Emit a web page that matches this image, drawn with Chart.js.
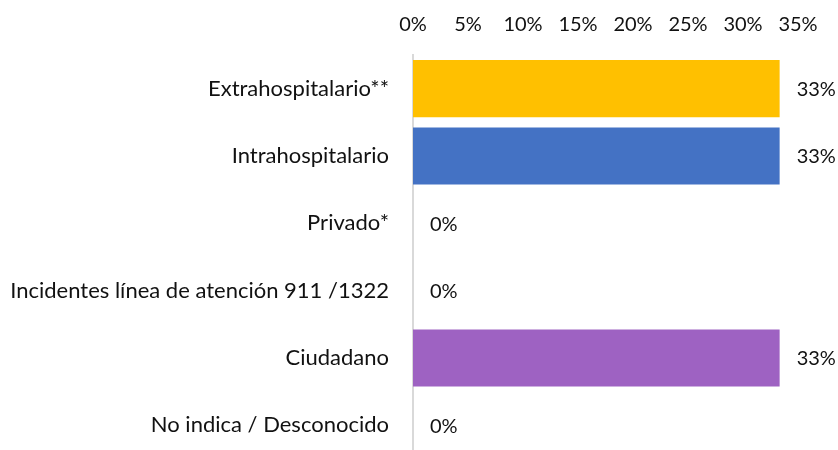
<!DOCTYPE html>
<html>
<head>
<meta charset="utf-8">
<script src="https://cdn.jsdelivr.net/npm/chart.js@4/dist/chart.umd.min.js"></script>
<style>
  html, body { margin: 0; padding: 0; background: #fff; overflow: hidden; }
  #wrap { position: relative; width: 838px; height: 460px; }
</style>
</head>
<body>
<div id="wrap"><canvas id="c"></canvas></div>
<script>
const categories = [
  "Extrahospitalario**",
  "Intrahospitalario",
  "Privado*",
  "Incidentes línea de atención 911 /1322",
  "Ciudadano",
  "No indica / Desconocido"
];
const values = [33.33, 33.33, 0, 0, 33.33, 0];
const valueLabels = ["33%", "33%", "0%", "0%", "33%", "0%"];
const barColors = ["#FFC000", "#4472C4", "#A5A5A5", "#5B9BD5", "#9E62C2", "#70AD47"];
const xTicks = [0, 5, 10, 15, 20, 25, 30, 35];

const FONT = "Lato, 'Open Sans', sans-serif";
const FS_LABEL = 22;
const FS_NUM = 20;

const valueLabelPlugin = {
  id: 'valueLabels',
  afterDatasetsDraw(chart) {
    const ctx = chart.ctx;
    const meta = chart.getDatasetMeta(0);
    ctx.save();
    ctx.font = FS_NUM + "px " + FONT;
    ctx.fillStyle = "#111";
    ctx.textAlign = "left";
    ctx.textBaseline = "middle";
    meta.data.forEach((bar, i) => {
      const p = bar.getProps(['x', 'y'], true);
      ctx.fillText(valueLabels[i], p.x + 17, p.y + 1);
    });
    ctx.restore();
  }
};

new Chart(document.getElementById('c'), {
  type: 'bar',
  data: {
    labels: categories,
    datasets: [{
      data: values,
      backgroundColor: barColors,
      borderWidth: 0,
      categoryPercentage: 1.0,
      barPercentage: 0.85
    }]
  },
  options: {
    indexAxis: 'y',
    responsive: true,
    maintainAspectRatio: false,
    animation: false,
    devicePixelRatio: 1,
    layout: { padding: { top: 0, right: 40, bottom: 1, left: 0 } },
    plugins: { legend: { display: false }, tooltip: { enabled: false } },
    scales: {
      x: {
        position: 'top',
        min: 0,
        max: 35,
        afterBuildTicks(scale) { scale.ticks = xTicks.map(v => ({ value: v })); },
        afterFit(scale) { scale.height = 55; },
        grid: { display: false, drawTicks: false },
        border: { display: false },
        ticks: {
          padding: 18,
          color: "#111",
          font: { family: FONT, size: FS_NUM },
          callback: (v) => v + "%"
        }
      },
      y: {
        afterFit(scale) { scale.width = 413; scale.paddingTop = 0; scale.paddingBottom = 0; },
        grid: { display: false, drawTicks: false },
        border: { display: true, color: "#D9D9D9", width: 2 },
        ticks: {
          padding: 24,
          color: "#111",
          font: { family: FONT, size: FS_LABEL }
        }
      }
    }
  },
  plugins: [valueLabelPlugin]
});
</script>
</body>
</html>
